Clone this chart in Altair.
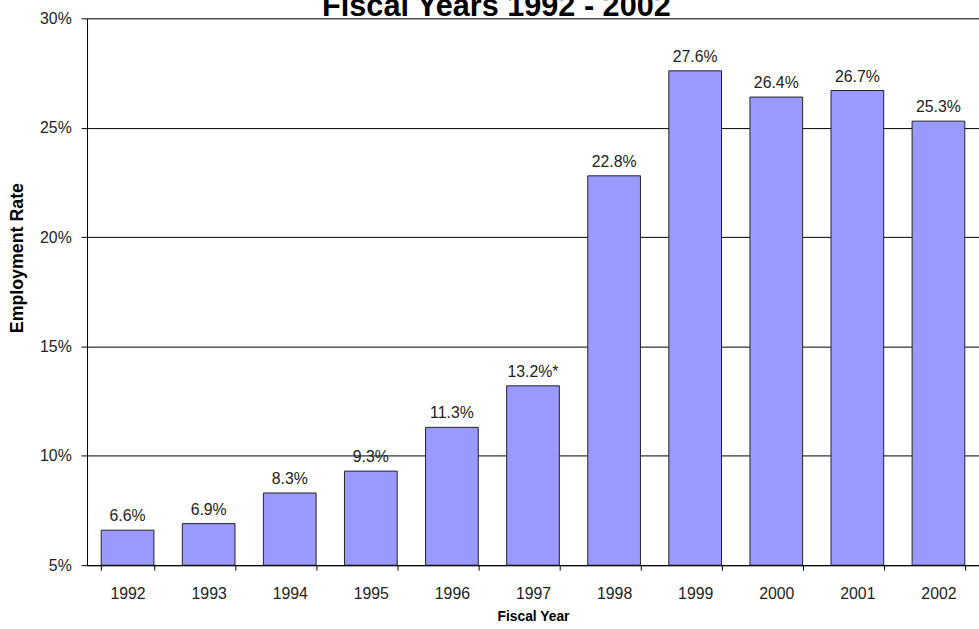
import altair as alt
import pandas as pd

# Employment rate by fiscal year
years = ["1992", "1993", "1994", "1995", "1996", "1997", "1998", "1999", "2000", "2001", "2002"]
rates = [6.6, 6.9, 8.3, 9.3, 11.3, 13.2, 22.8, 27.6, 26.4, 26.7, 25.3]
notes = ["", "", "", "", "", "*", "", "", "", "", ""]
chart_title = "Fiscal Years 1992 - 2002"

df = pd.DataFrame({"year": years, "rate": rates, "note": notes})
df["label"] = df["rate"].map(lambda v: f"{v:.1f}%") + df["note"]

FONT = "Liberation Sans"
y_scale = alt.Scale(domain=[5, 30], nice=False, zero=False)

x_enc = alt.X(
    "year:N",
    sort=years,
    title="Fiscal Year",
    scale=alt.Scale(paddingInner=0.35, paddingOuter=0.175),
    axis=alt.Axis(
        labelAngle=0,
        tickBand="extent",
        tickSize=5,
        tickColor="black",
        domainColor="black",
        labelFont=FONT,
        labelFontSize=16,
        labelColor="#222222",
        labelPadding=16,
        titleFont=FONT,
        titleFontSize=14,
        titleFontWeight="bold",
        titleColor="black",
        titlePadding=8,
    ),
)

y_enc = alt.Y(
    "rate:Q",
    title="Employment Rate",
    scale=y_scale,
    axis=alt.Axis(
        values=[5, 10, 15, 20, 25, 30],
        labelExpr="datum.value + '%'",
        grid=True,
        gridColor="black",
        gridOpacity=1,
        gridWidth=1,
        tickSize=6,
        tickColor="black",
        domainColor="black",
        labelFont=FONT,
        labelFontSize=16,
        labelColor="#222222",
        labelPadding=10,
        titleFont=FONT,
        titleFontSize=18,
        titleFontWeight="bold",
        titleColor="black",
        titlePadding=13,
        titleY=242,
    ),
)

bars = alt.Chart(df).mark_bar(
    color="#9999FF", stroke="#222222", strokeWidth=1, clip=True
).encode(x=x_enc, y=y_enc, y2=alt.datum(5))

labels = alt.Chart(df).mark_text(
    font=FONT, fontSize=16, color="#222222", baseline="alphabetic", dy=-9
).encode(x=alt.X("year:N", sort=years), y=alt.Y("rate:Q", scale=y_scale), text="label:N")

# Chart heading, drawn as a text layer so it can sit right on the plot's top edge
heading = alt.Chart(pd.DataFrame({"t": [chart_title]})).mark_text(
    font=FONT, fontSize=31, fontWeight="bold", color="black", baseline="alphabetic", align="center"
).encode(x=alt.value(414), y=alt.value(-2), text="t:N")

chart = (
    alt.layer(bars, labels, heading)
    .properties(
        width=902,
        height=553,
        autosize=alt.AutoSizeParams(type="none"),
        padding={"left": 88, "top": 15, "right": 0, "bottom": 61},
    )
    .configure_view(stroke="black", strokeWidth=1)
    .configure(background="white")
)

chart.save("out.html", embed_options={"renderer": "svg", "actions": False})
